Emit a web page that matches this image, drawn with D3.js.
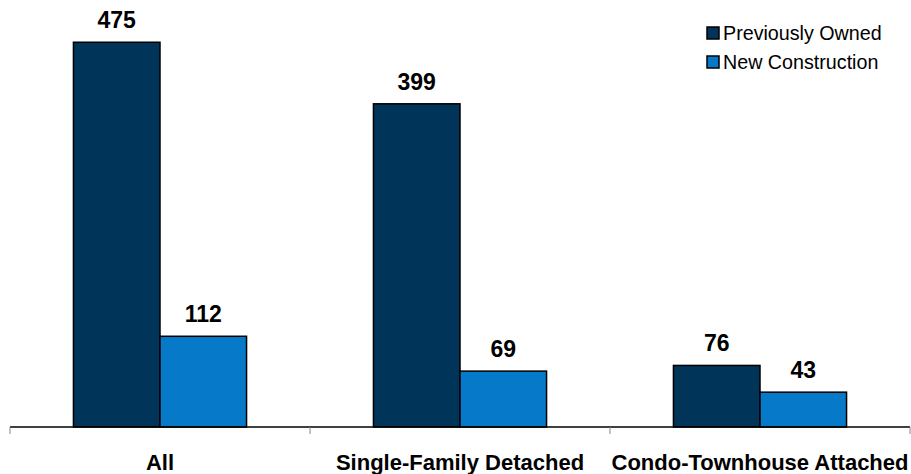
<!DOCTYPE html>
<html>
<head>
<meta charset="utf-8">
<script src="https://cdn.jsdelivr.net/npm/d3@7/dist/d3.min.js"></script>
<style>
  body { margin: 0; background: #fff; }
  svg text { font-family: Arial, "Liberation Sans", sans-serif; }
</style>
</head>
<body>
<div id="chart"></div>
<script>
const categories = ["All", "Single-Family Detached", "Condo-Townhouse Attached"];
const seriesNames = ["Previously Owned", "New Construction"];
const previouslyOwned = [475, 399, 76];
const newConstruction = [112, 69, 43];
const seriesColors = ["#003459", "#0779c9"];

const width = 911;
const height = 474;
const margin = { left: 10, right: 1, top: 22, bottom: 47 };

const rows = categories.map((c, i) => ({
  category: c,
  values: [previouslyOwned[i], newConstruction[i]]
}));

const svg = d3.select("#chart")
  .append("svg")
  .attr("width", width)
  .attr("height", height);

const x0 = d3.scaleBand()
  .domain(categories)
  .range([margin.left, width - margin.right])
  .paddingInner(0)
  .paddingOuter(0);

const groupWidth = x0.bandwidth() * 0.577;
const x1 = d3.scaleBand()
  .domain(seriesNames)
  .range([0, groupWidth])
  .padding(0);

const y = d3.scaleLinear()
  .domain([0, 500])
  .range([height - margin.bottom, margin.top]);

const groups = svg.selectAll("g.group")
  .data(rows)
  .enter().append("g")
  .attr("class", "group")
  .attr("transform", d => `translate(${x0(d.category) + (x0.bandwidth() - groupWidth) / 2},0)`);

groups.selectAll("rect")
  .data(d => d.values.map((v, i) => ({ name: seriesNames[i], value: v, i })))
  .enter().append("rect")
  .attr("x", d => x1(d.name))
  .attr("y", d => y(d.value))
  .attr("width", x1.bandwidth())
  .attr("height", d => y(0) - y(d.value))
  .attr("fill", d => seriesColors[d.i])
  .attr("stroke", "#000")
  .attr("stroke-width", 1.5);

groups.selectAll("text.val")
  .data(d => d.values.map((v, i) => ({ name: seriesNames[i], value: v })))
  .enter().append("text")
  .attr("class", "val")
  .attr("x", d => x1(d.name) + x1.bandwidth() / 2)
  .attr("y", d => y(d.value) - 14)
  .attr("text-anchor", "middle")
  .attr("font-size", 23)
  .attr("font-weight", "bold")
  .attr("fill", "#000")
  .text(d => d.value);

// x axis
const xAxis = d3.axisBottom(x0).tickSize(0).tickFormat("");
const axisG = svg.append("g")
  .attr("transform", `translate(0,${y(0)})`)
  .call(xAxis);
axisG.select(".domain").remove();
axisG.append("line")
  .attr("x1", margin.left).attr("x2", width - margin.right)
  .attr("stroke", "#000").attr("stroke-width", 1.5);

const tickX = categories.map(c => x0(c)).concat([x0(categories[categories.length - 1]) + x0.bandwidth()]);
axisG.selectAll("line.sep")
  .data(tickX)
  .enter().append("line")
  .attr("class", "sep")
  .attr("x1", d => d).attr("x2", d => d)
  .attr("y1", 0).attr("y2", 7)
  .attr("stroke", "#888").attr("stroke-width", 1);

axisG.selectAll("text.cat")
  .data(categories)
  .enter().append("text")
  .attr("class", "cat")
  .attr("x", d => x0(d) + x0.bandwidth() / 2)
  .attr("y", 43)
  .attr("text-anchor", "middle")
  .attr("font-size", 22)
  .attr("font-weight", "bold")
  .attr("fill", "#000")
  .text(d => d);

// legend
const legend = svg.append("g").attr("transform", "translate(707,27)");
const items = legend.selectAll("g")
  .data(seriesNames)
  .enter().append("g")
  .attr("transform", (d, i) => `translate(0,${i * 29})`);
items.append("rect")
  .attr("width", 12).attr("height", 12)
  .attr("fill", (d, i) => seriesColors[i])
  .attr("stroke", "#000").attr("stroke-width", 1.5);
items.append("text")
  .attr("x", 16).attr("y", 12.5)
  .attr("font-size", 19.7)
  .attr("fill", "#000")
  .text(d => d);
</script>
</body>
</html>
